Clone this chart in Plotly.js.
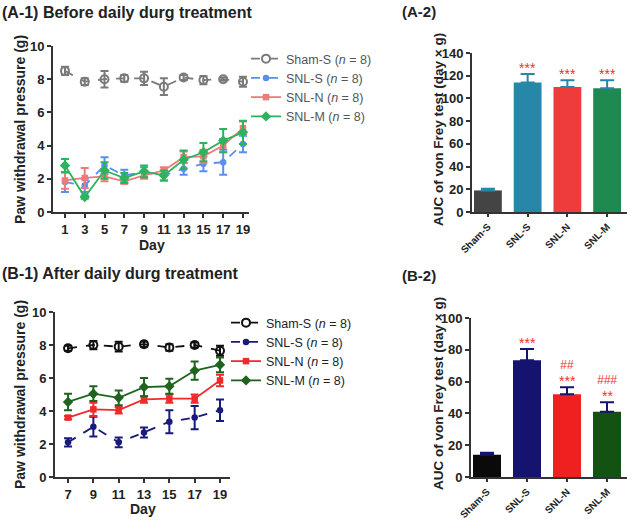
<!DOCTYPE html>
<html><head><meta charset="utf-8">
<script src="https://cdn.plot.ly/plotly-3.0.1.min.js"></script>
<style>html,body{margin:0;padding:0;background:#fff}#chart{width:629px;height:520px}</style>
</head><body><div id="chart"></div>
<script>
// ---- Data ----
const daysA = [1,3,5,7,9,11,13,15,17,19];
const shamA = [8.5,7.85,8.0,8.05,8.05,7.55,8.1,7.95,8.0,7.85];
const shamAErr = [0.25,0.2,0.5,0.2,0.4,0.5,0.15,0.25,0.1,0.3];
const snlSA = [1.8,1.6,2.8,2.2,2.4,2.2,2.6,2.9,3.0,4.1];
const snlSAErr = [0.6,0.4,0.5,0.35,0.3,0.3,0.35,0.45,0.75,0.5];
const snlNA = [1.9,2.05,2.15,1.85,2.2,2.5,3.3,3.35,4.0,5.05];
const snlNAErr = [0.5,0.6,0.3,0.15,0.2,0.2,0.35,0.4,0.4,0.4];
const snlMA = [2.8,0.9,2.5,2.05,2.45,2.2,3.15,3.6,4.3,4.8];
const snlMAErr = [0.4,0.1,0.5,0.3,0.35,0.3,0.55,0.55,0.7,0.7];

const daysB = [7,9,11,13,15,17,19];
const shamB = [7.8,8.0,7.9,8.05,7.85,8.0,7.65];
const shamBErr = [0.15,0.25,0.3,0.15,0.2,0.15,0.3];
const snlSB = [2.1,3.05,2.1,2.7,3.35,3.6,4.05];
const snlSBErr = [0.25,0.6,0.3,0.3,0.7,0.7,0.65];
const snlNB = [3.6,4.1,4.05,4.7,4.75,4.75,5.85];
const snlNBErr = [0.1,0.4,0.2,0.2,0.25,0.25,0.35];
const snlMB = [4.55,5.05,4.8,5.45,5.5,6.45,6.8];
const snlMBErr = [0.5,0.45,0.45,0.55,0.45,0.55,0.45];

const groups = ['Sham-S','SNL-S','SNL-N','SNL-M'];
const aucA = [19,114,110,109];
const aucAErr = [1.5,7.5,6,7];
const aucB = [14,73.5,52,41];
const aucBErr = [1.3,7,4.5,6];
const sigA = ['','***','***','***'];
const sigB = ['','***','***','**'];
const sigB2 = ['','','##','###'];

const legendNames = groups.map(g => g + ' (<i>n</i> = 8)');

// ---- Styles ----
const W = 629, H = 520;
const px = v => v / W, py = v => 1 - v / H;
const FONT = 'Arial, "Liberation Sans", sans-serif';
const colA = ['#7a7a7a','#5a8ef0','#f07a7a','#2db35d'];
const colB = ['#111111','#1a1a7c','#f02a2a','#1e641e'];
const barA = ['#444444','#2787a8','#ee3b3b','#1f8a4f'];
const barB = ['#0a0a0a','#14146e','#f02020','#145214'];
const symbols = ['circle-open','circle','square','diamond'];
const dashes = ['dash','dash','solid','solid'];

function lineTrace(x, y, e, i, cols, xa, ya, legend, show) {
  return {
    x: x, y: y, type: 'scatter', mode: 'lines+markers',
    name: legendNames[i], xaxis: xa, yaxis: ya, legend: legend, showlegend: show,
    line: {color: cols[i], width: 1.8, dash: dashes[i]},
    marker: {symbol: symbols[i], size: i === 0 ? 8 : (i === 3 ? 8 : 6.5), color: cols[i],
             line: {color: cols[i], width: i === 0 ? 2 : 0}},
    error_y: {type: 'data', array: e, visible: true, color: cols[i], thickness: 2, width: 4}
  };
}

const traces = [
  lineTrace(daysA, shamA, shamAErr, 0, colA, 'x', 'y', 'legend', true),
  lineTrace(daysA, snlSA, snlSAErr, 1, colA, 'x', 'y', 'legend', true),
  lineTrace(daysA, snlNA, snlNAErr, 2, colA, 'x', 'y', 'legend', true),
  lineTrace(daysA, snlMA, snlMAErr, 3, colA, 'x', 'y', 'legend', true),
  {x: groups, y: aucA, type: 'bar', xaxis: 'x2', yaxis: 'y2', showlegend: false, width: 0.7,
   marker: {color: barA},
   error_y: {type: 'data', symmetric: false, array: aucAErr, arrayminus: [0,0,0,0], color: barA[1], thickness: 2, width: 7}},
  lineTrace(daysB, shamB, shamBErr, 0, colB, 'x3', 'y3', 'legend2', true),
  lineTrace(daysB, snlSB, snlSBErr, 1, colB, 'x3', 'y3', 'legend2', true),
  lineTrace(daysB, snlNB, snlNBErr, 2, colB, 'x3', 'y3', 'legend2', true),
  lineTrace(daysB, snlMB, snlMBErr, 3, colB, 'x3', 'y3', 'legend2', true),
  {x: groups, y: aucB, type: 'bar', xaxis: 'x4', yaxis: 'y4', showlegend: false, width: 0.7,
   marker: {color: barB},
   error_y: {type: 'data', symmetric: false, array: aucBErr, arrayminus: [0,0,0,0], color: barB[1], thickness: 2, width: 7}}
];

const tickFont = {family: FONT, size: 13, color: '#222', weight: 'bold'};
function axis(extra) {
  return Object.assign({showline: true, linewidth: 2, linecolor: '#333', ticks: 'outside',
    ticklen: 4, tickwidth: 2, tickcolor: '#333', showgrid: false, zeroline: false,
    tickfont: tickFont, fixedrange: true}, extra);
}

const annotations = [];
function txt(x, y, text, size, extra) {
  annotations.push(Object.assign({xref: 'paper', yref: 'paper', x: px(x), y: py(y), text: text,
    xanchor: 'center', yanchor: 'middle',
    showarrow: false, font: {family: FONT, size: size, color: '#222', weight: 'bold'}}, extra || {}));
}
txt(0, 12, '(A-1) Before daily durg treatment', 16, {xanchor: 'left'});
txt(419, 11, '(A-2)', 15);
txt(0, 273, '(B-1) After daily durg treatment', 16, {xanchor: 'left'});
txt(419, 275, '(B-2)', 15);
txt(20, 130, 'Paw withdrawal pressure (g)', 14, {textangle: -90});
txt(20, 395, 'Paw withdrawal pressure (g)', 14, {textangle: -90});
txt(152, 245, 'Day', 14);
txt(143, 509, 'Day', 14);
txt(438, 130, 'AUC of von Frey test (day × g)', 13.5, {textangle: -90});
txt(438, 394, 'AUC of von Frey test (day × g)', 13.5, {textangle: -90});

const sigFont = {family: FONT, size: 14, color: '#ee3030'};
groups.forEach((g, i) => {
  if (sigA[i]) annotations.push({xref: 'x2', yref: 'y2', x: g, y: aucA[i] + aucAErr[i], yanchor: 'bottom',
    text: sigA[i], showarrow: false, yshift: -4, font: sigFont});
  if (sigB[i]) annotations.push({xref: 'x4', yref: 'y4', x: g, y: aucB[i] + aucBErr[i], yanchor: 'bottom',
    text: sigB[i], showarrow: false, yshift: -4, font: sigFont});
  if (sigB2[i]) annotations.push({xref: 'x4', yref: 'y4', x: g, y: aucB[i] + aucBErr[i], yanchor: 'bottom',
    text: '<i>' + sigB2[i] + '</i>', showarrow: false, yshift: 13,
    font: {family: FONT, size: 12, color: '#ee3030'}});
});

const catFont = {family: FONT, size: 10, color: '#222', weight: 'bold'};
const layout = {
  width: W, height: H, margin: {l: 0, r: 0, t: 0, b: 0},
  paper_bgcolor: '#fff', plot_bgcolor: '#fff',
  font: {family: FONT, color: '#222'},
  xaxis: axis({domain: [px(53), px(249)], range: [-0.21, 19.61], tickvals: daysA, anchor: 'y'}),
  yaxis: axis({domain: [py(212), py(46)], range: [0, 10], dtick: 2, anchor: 'x'}),
  xaxis2: axis({domain: [px(472), px(627)], range: [-0.4, 3.5], anchor: 'y2', tickangle: -45, tickfont: catFont, ticklen: 3}),
  yaxis2: axis({domain: [py(212), py(53)], range: [0, 140], dtick: 20, anchor: 'x2'}),
  xaxis3: axis({domain: [px(55), px(230)], range: [5.97, 19.79], tickvals: daysB, anchor: 'y3'}),
  yaxis3: axis({domain: [py(477), py(312)], range: [0, 10], dtick: 2, anchor: 'x3'}),
  xaxis4: axis({domain: [px(471), px(627)], range: [-0.4, 3.5], anchor: 'y4', tickangle: -45, tickfont: catFont, ticklen: 3}),
  yaxis4: axis({domain: [py(477), py(318)], range: [0, 100], dtick: 20, anchor: 'x4'}),
  legend: {x: px(246), y: py(44), xanchor: 'left', yanchor: 'top', bgcolor: 'rgba(0,0,0,0)',
    font: {family: FONT, size: 12.5, color: '#555'}, tracegroupgap: 0, itemwidth: 30},
  legend2: {x: px(226), y: py(308), xanchor: 'left', yanchor: 'top', bgcolor: 'rgba(0,0,0,0)',
    font: {family: FONT, size: 12.5, color: '#222'}, tracegroupgap: 0, itemwidth: 30},
  annotations: annotations,
  showlegend: true
};

Plotly.newPlot('chart', traces, layout, {displayModeBar: false, staticPlot: true});
</script>
</body></html>
